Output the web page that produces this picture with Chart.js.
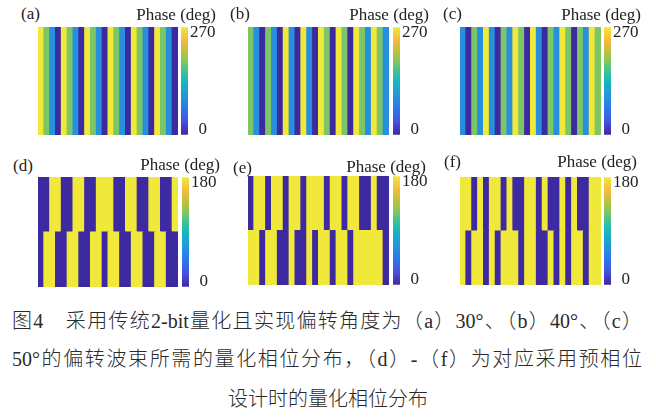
<!DOCTYPE html>
<html>
<head>
<meta charset="utf-8">
<script src="https://cdn.jsdelivr.net/npm/chart.js@4/dist/chart.umd.min.js"></script>
<style>
  body { margin: 0; width: 656px; height: 420px; position: relative; overflow: hidden; background: #fff; color: #222; }
  canvas { position: absolute; }
  .lbl { position: absolute; font-family: "Liberation Serif", serif; font-size: 17px; line-height: 17px; white-space: nowrap; }
  .cap { position: absolute; font-family: "Liberation Serif", "Noto Sans CJK SC", serif; font-weight: 300; font-size: 20px; line-height: 24px; color: #2a2a2a; white-space: nowrap; }
  .just { width: 630px; text-align: justify; text-align-last: justify; white-space: normal; }
</style>
</head>
<body>

<script>
// phase per column, left to right (deg)
const phaseA = [270, 180, 90, 0, 270, 180, 90, 0, 270, 180, 90, 0, 270, 180, 90, 0, 270, 180, 90, 0, 270, 180, 90, 0];
const phaseB = [180, 90, 0, 180, 90, 0, 270, 90, 0, 270, 90, 0, 270, 180, 0, 270, 180, 0, 270, 180, 90, 270, 180, 90];
const phaseC = [90, 0, 180, 90, 270, 90, 0, 180, 90, 270, 180, 0, 270, 90, 0, 180, 90, 270, 180, 0, 180, 90, 270, 180];

// pre-phase designs: upper half and lower half of the array
const topD    = [0, 0, 180, 180, 0, 0, 180, 180, 0, 0, 180, 180, 180, 0, 0, 180, 180, 0, 0, 180, 180, 0, 0, 180];
const bottomD = [0, 180, 180, 0, 0, 180, 180, 0, 0, 180, 180, 0, 180, 180, 0, 0, 180, 180, 0, 0, 180, 180, 0, 0];
const topE    = [0, 180, 180, 0, 180, 180, 0, 180, 180, 0, 180, 180, 180, 0, 180, 180, 0, 180, 180, 0, 0, 180, 0, 0];
const bottomE = [180, 180, 0, 180, 180, 0, 0, 180, 0, 0, 180, 0, 180, 180, 0, 180, 180, 0, 180, 180, 180, 180, 180, 0];
const topF    = [180, 180, 0, 180, 0, 180, 180, 0, 180, 0, 0, 180, 180, 0, 180, 0, 0, 180, 0, 180, 0, 0, 180, 180];
const bottomF = [180, 0, 180, 180, 0, 180, 0, 180, 180, 180, 0, 180, 180, 0, 0, 180, 0, 180, 0, 180, 180, 0, 180, 180];

// colorbar ticks and ranges
const ticks2bit = [0, 270];
const ticks1bit = [0, 180];
const range2bit = [-15, 285];
const range1bit = [-10, 190];

const panelLabels = ['(a)', '(b)', '(c)', '(d)', '(e)', '(f)'];
const colorbarTitle = 'Phase (deg)';
const captionLines = [
  '图4　采用传统2-bit量化且实现偏转角度为（a）30°、（b）40°、（c）',
  '50°的偏转波束所需的量化相位分布，（d）-（f）为对应采用预相位',
  '设计时的量化相位分布'
];

// parula-ish colormap
const parulaStops = [
  [0, [62, 42, 160]], [0.125, [70, 82, 228]], [0.25, [42, 122, 235]], [0.333, [38, 143, 222]],
  [0.5, [22, 184, 190]], [0.625, [80, 198, 132]], [0.667, [125, 198, 102]], [0.75, [176, 195, 62]],
  [0.875, [244, 186, 62]], [1, [240, 232, 58]]
];
function parula(t) {
  t = Math.max(0, Math.min(1, t));
  for (let i = 1; i < parulaStops.length; i++) {
    const [t1, c1] = parulaStops[i];
    const [t0, c0] = parulaStops[i - 1];
    if (t <= t1) {
      const f = (t - t0) / (t1 - t0);
      const c = c0.map((v, k) => Math.round(v + (c1[k] - v) * f));
      return `rgb(${c[0]},${c[1]},${c[2]})`;
    }
  }
}

const layout = [
  { rows: [phaseA], max: 270, ticks: ticks2bit, range: range2bit, x: 38, y: 27, w: 140, h: 108, cbX: 181, lx: 21, ly: 5, pr: 216, py: 6 },
  { rows: [phaseB], max: 270, ticks: ticks2bit, range: range2bit, x: 248, y: 27, w: 141, h: 108, cbX: 393, lx: 230, ly: 5, pr: 429, py: 6 },
  { rows: [phaseC], max: 270, ticks: ticks2bit, range: range2bit, x: 460, y: 27, w: 141, h: 108, cbX: 604, lx: 443, ly: 5, pr: 641, py: 6 },
  { rows: [bottomD, topD], max: 180, ticks: ticks1bit, range: range1bit, x: 38, y: 177, w: 140, h: 110, cbX: 182, lx: 13, ly: 157, pr: 220, py: 156 },
  { rows: [bottomE, topE], max: 180, ticks: ticks1bit, range: range1bit, x: 248, y: 176, w: 141, h: 109, cbX: 393, lx: 233, ly: 159, pr: 426, py: 158 },
  { rows: [bottomF, topF], max: 180, ticks: ticks1bit, range: range1bit, x: 460, y: 177, w: 141, h: 108, cbX: 604, lx: 444, ly: 153, pr: 637, py: 153 }
];

function addCanvas(x, y, w, h) {
  const c = document.createElement('canvas');
  c.width = w; c.height = h;
  c.style.left = x + 'px'; c.style.top = y + 'px';
  c.style.width = w + 'px'; c.style.height = h + 'px';
  document.body.appendChild(c);
  return c;
}

function addText(cls, text, style) {
  const d = document.createElement('div');
  d.className = cls;
  d.textContent = text;
  Object.assign(d.style, style);
  document.body.appendChild(d);
}

function heatmap(p) {
  const canvas = addCanvas(p.x, p.y, p.w, p.h);
  new Chart(canvas, {
    type: 'bar',
    data: {
      labels: p.rows[0].map((_, i) => i + 1),
      datasets: p.rows.map(row => ({
        data: row.map(() => 1),
        backgroundColor: row.map(v => parula(v / p.max)),
        borderWidth: 0,
        barPercentage: 1,
        categoryPercentage: 1,
        inflateAmount: 0.5
      }))
    },
    options: {
      responsive: false,
      animation: false,
      layout: { padding: 0 },
      plugins: { legend: { display: false }, tooltip: { enabled: false } },
      scales: {
        x: { display: false, stacked: true },
        y: { display: false, stacked: true, min: 0, max: p.rows.length }
      }
    }
  });
}

function colorbar(p) {
  const pad = 12, axisW = 32, barW = 7;
  const canvas = addCanvas(p.cbX, p.y - pad, barW + axisW, p.h + pad * 2);
  new Chart(canvas, {
    type: 'bar',
    data: {
      labels: [''],
      datasets: [{
        data: [p.range],
        backgroundColor: (ctx) => {
          const area = ctx.chart.chartArea;
          if (!area) return null;
          const g = ctx.chart.ctx.createLinearGradient(0, area.bottom, 0, area.top);
          parulaStops.forEach(([t, c]) => g.addColorStop(t, `rgb(${c[0]},${c[1]},${c[2]})`));
          return g;
        },
        borderWidth: 0,
        barPercentage: 1,
        categoryPercentage: 1
      }]
    },
    options: {
      responsive: false,
      animation: false,
      layout: { padding: { top: pad, bottom: pad, left: 0, right: 0 } },
      plugins: { legend: { display: false }, tooltip: { enabled: false } },
      scales: {
        x: { display: false },
        y: {
          position: 'right',
          min: p.range[0],
          max: p.range[1],
          afterBuildTicks: (s) => { s.ticks = p.ticks.map(v => ({ value: v })); },
          afterFit: (s) => { s.width = axisW; },
          grid: { display: false, drawTicks: false },
          border: { display: false },
          ticks: {
            padding: 2,
            crossAlign: 'center',
            color: '#222',
            font: { family: 'Liberation Serif', size: 17 }
          }
        }
      }
    }
  });
}

layout.forEach((p, i) => {
  heatmap(p);
  colorbar(p);
  addText('lbl', panelLabels[i], { left: p.lx + 'px', top: p.ly + 'px' });
  addText('lbl', colorbarTitle, { right: (656 - p.pr) + 'px', top: p.py + 'px' });
});

addText('cap just', captionLines[0], { left: '12px', top: '309px' });
addText('cap just', captionLines[1], { left: '12px', top: '347px' });
addText('cap', captionLines[2], { left: '0px', width: '656px', textAlign: 'center', top: '387px' });
</script>
</body>
</html>
